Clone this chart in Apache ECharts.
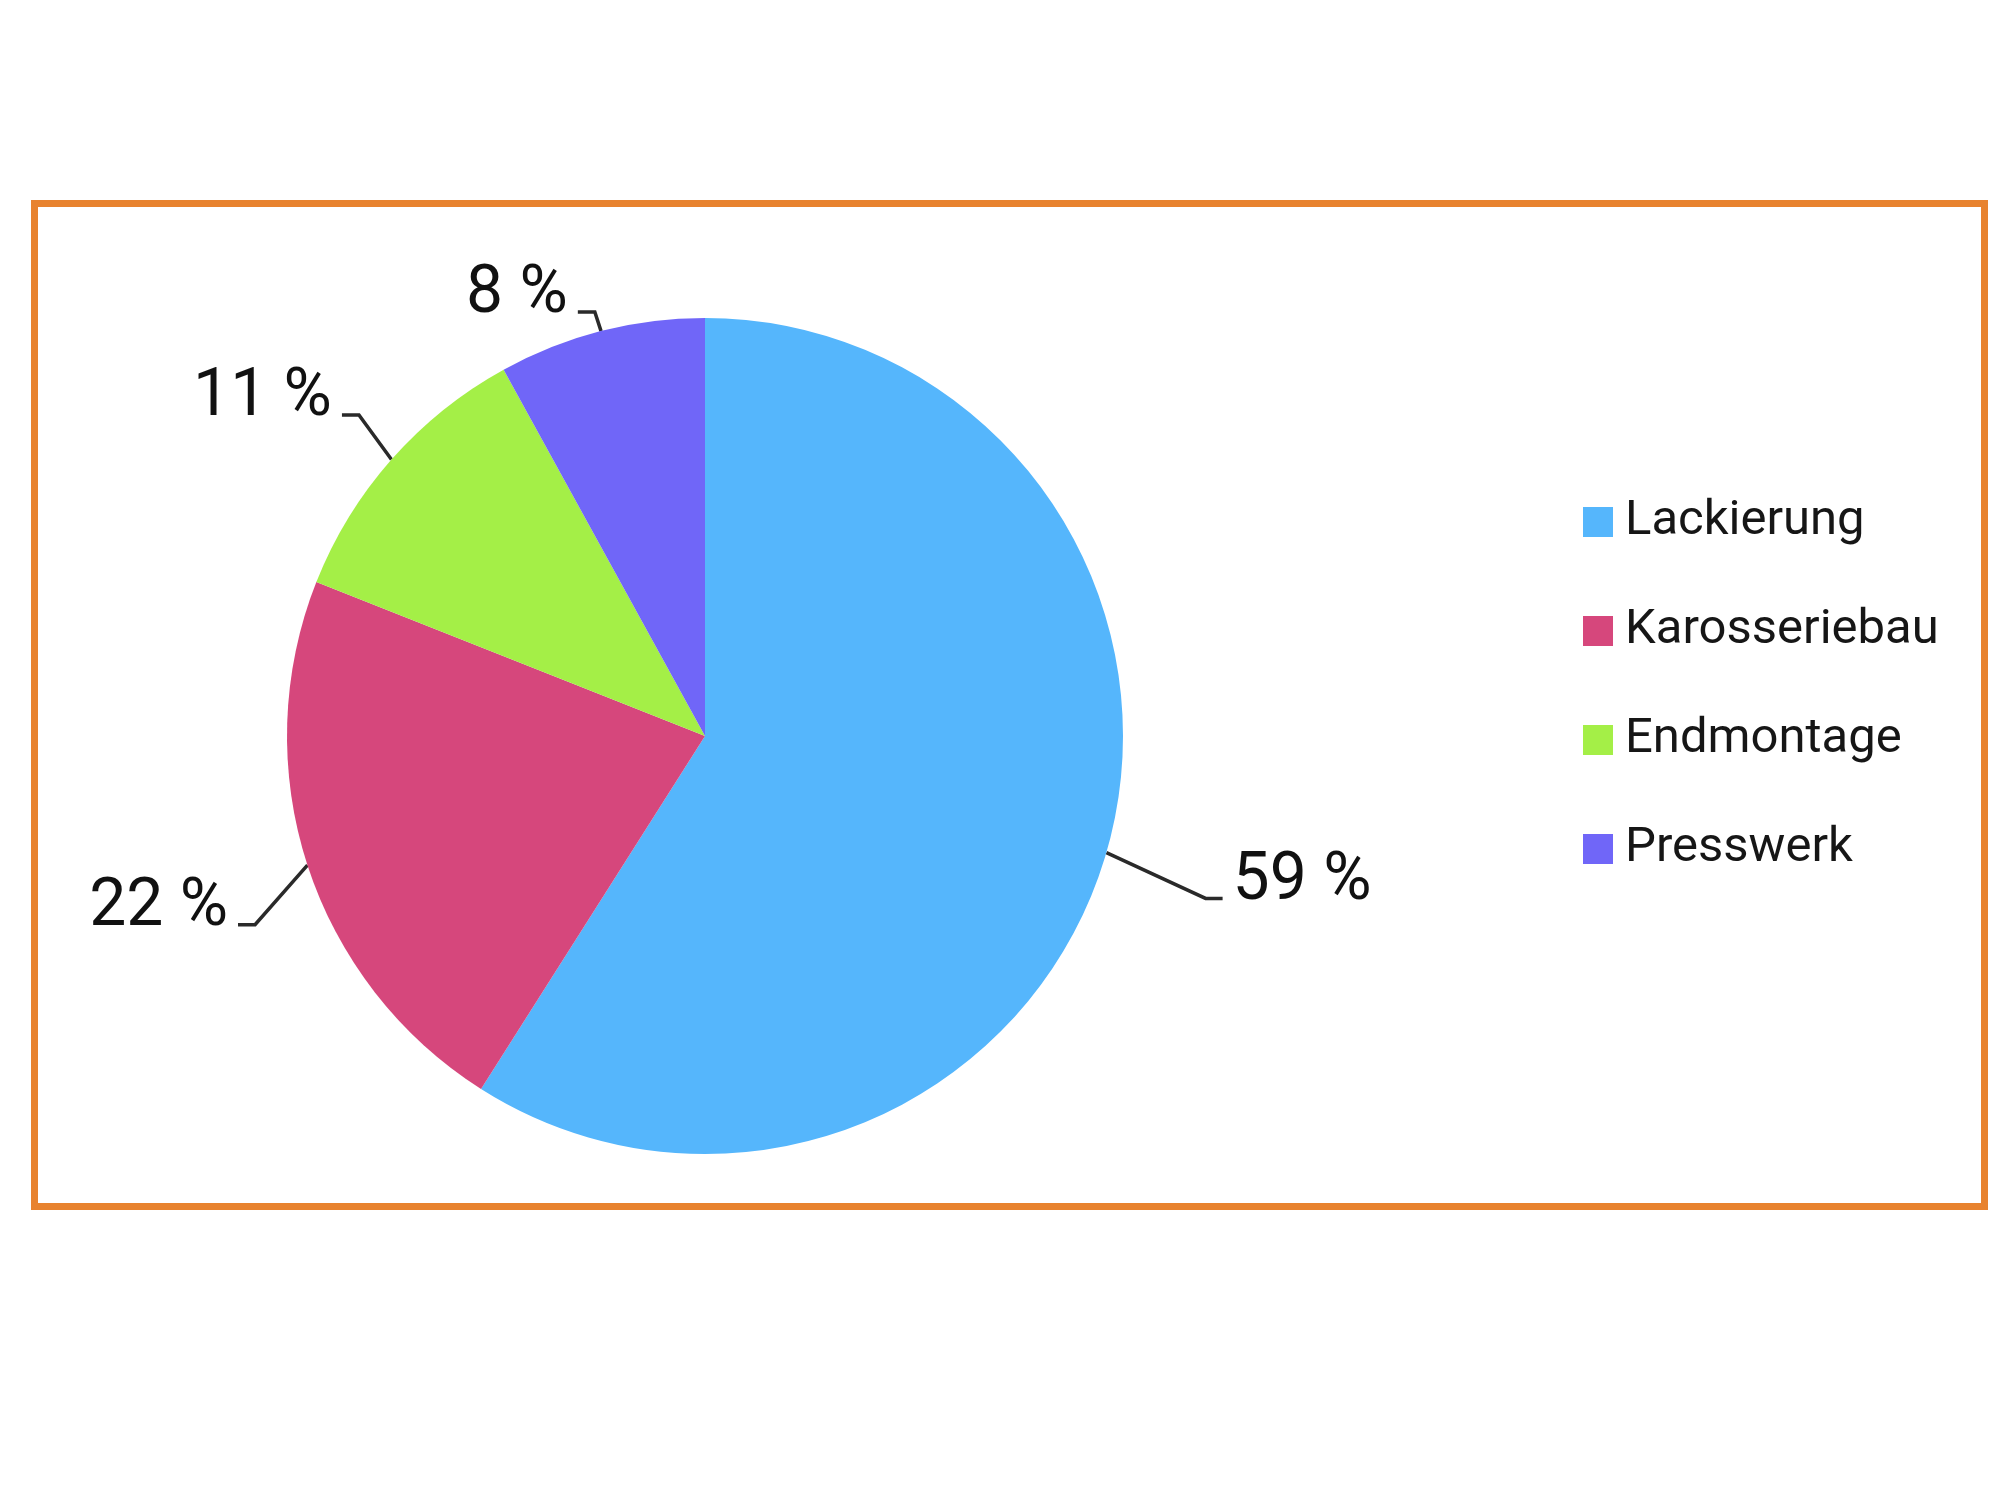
<!DOCTYPE html>
<html>
<head>
<meta charset="utf-8">
<script src="https://cdn.jsdelivr.net/npm/echarts@6/dist/echarts.min.js"></script>
<style>
  html, body { margin: 0; padding: 0; background: #ffffff; }
  #chart { position: absolute; left: 0; top: 0; width: 2000px; height: 1500px; }
  #frame { position: absolute; left: 31px; top: 200px; width: 1943px; height: 996px;
           border: 7px solid #e8832f; pointer-events: none; }
</style>
</head>
<body>
<div id="chart"></div>
<div id="frame"></div>
<script>
// ---- data ----
const categories = ['Lackierung', 'Karosseriebau', 'Endmontage', 'Presswerk'];
const values = [59, 22, 11, 8];
const colors = ['#55b6fc', '#d6477c', '#a4ef47', '#7066f8'];

// per-slice leader line styling (lengths) and vertical label nudges
const lineLen = [121, 73, 66, 25];
const lineLen2 = [0, 0, 0, 17];
const labelDy = [-4, 21, -17, -11];
const LINE_DROP = 16;   // leader line meets the label near its baseline
const LINE_TAIL = 17;   // short horizontal end of the leader line

const FONT = "'Roboto', 'Liberation Sans', sans-serif";

const chart = echarts.init(document.getElementById('chart'), null, { renderer: 'canvas' });

const data = categories.map((name, i) => ({
  name: name,
  value: values[i],
  itemStyle: { color: colors[i] },
  labelLine: { length: lineLen[i], length2: lineLen2[i] }
}));

chart.setOption({
  animation: false,
  backgroundColor: '#ffffff',
  legend: {
    orient: 'vertical',
    left: 1578,
    top: 487,
    icon: 'rect',
    itemWidth: 30,
    itemHeight: 30,
    itemGap: 49,
    data: categories,
    textStyle: {
      fontFamily: FONT,
      fontSize: 49,
      lineHeight: 60,
      color: '#161616',
      padding: [0, 0, 0, 7]
    }
  },
  series: [{
    type: 'pie',
    center: [705, 736],
    radius: 418,
    startAngle: 90,
    clockwise: true,
    avoidLabelOverlap: false,
    itemStyle: { borderWidth: 0 },
    label: {
      show: true,
      position: 'outside',
      formatter: '{c} %',
      fontFamily: FONT,
      fontSize: 66,
      lineHeight: 66,
      color: '#111111',
      distanceToLabelLine: 10
    },
    labelLine: {
      show: true,
      lineStyle: { color: '#2a2a2a', width: 3.5 }
    },
    labelLayout: function (params) {
      const i = params.dataIndex;
      const r = params.labelRect;
      const pts = params.labelLinePoints;
      if (!pts) return {};
      const cy = r.y + r.height / 2 + labelDy[i];
      const isLeft = pts[2][0] < pts[0][0];
      const endX = pts[2][0];
      const lineY = cy + LINE_DROP;
      const midX = endX + (isLeft ? LINE_TAIL : -LINE_TAIL);
      return {
        y: cy,
        labelLinePoints: [
          [pts[0][0], pts[0][1]],
          [midX, lineY],
          [endX, lineY]
        ]
      };
    },
    emphasis: { disabled: true },
    data: data
  }]
});
</script>
</body>
</html>
